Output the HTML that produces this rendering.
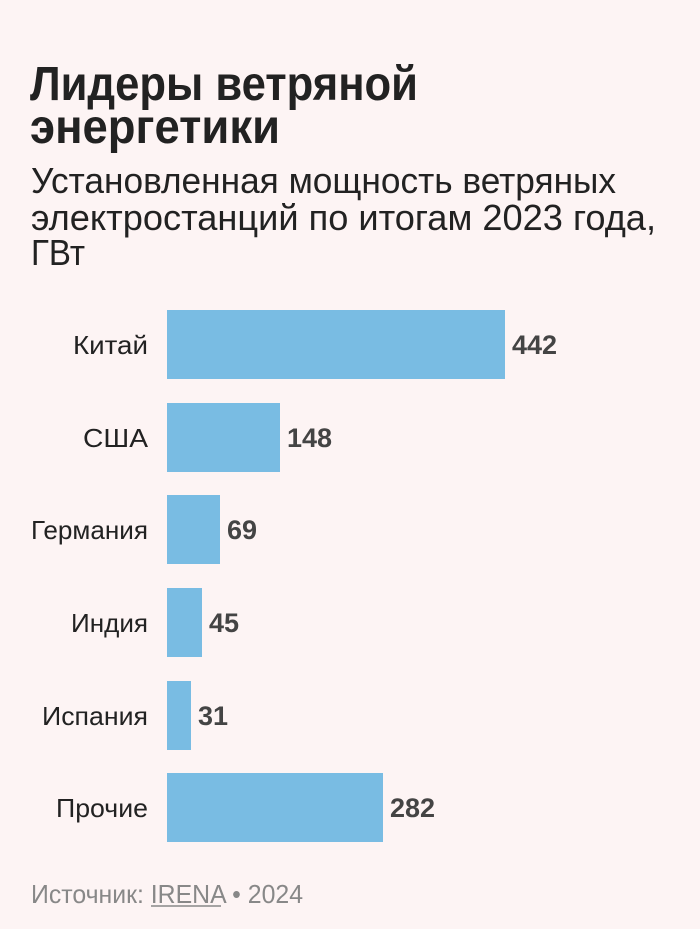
<!DOCTYPE html>
<html><head><meta charset="utf-8"><style>
html,body{margin:0;padding:0;background:#fdf4f4;}
svg{display:block;}
text{font-family:"Liberation Sans",sans-serif;}
</style></head><body>
<svg width="700" height="929" viewBox="0 0 700 929" xmlns="http://www.w3.org/2000/svg">
<rect width="700" height="929" fill="#fdf4f4"/>
<g fill="#222" font-weight="bold" font-size="48">
<text x="30" y="100" textLength="388" lengthAdjust="spacingAndGlyphs">Лидеры ветряной</text>
<text x="30" y="143" textLength="250" lengthAdjust="spacingAndGlyphs">энергетики</text>
</g>
<g fill="#222" font-size="36">
<text x="31" y="193" textLength="585" lengthAdjust="spacingAndGlyphs">Установленная мощность ветряных</text>
<text x="31" y="230" textLength="625" lengthAdjust="spacingAndGlyphs">электростанций по итогам 2023 года,</text>
<text x="31" y="265" textLength="54" lengthAdjust="spacingAndGlyphs">ГВт</text>
</g>
<g fill="#79bce3">
<rect x="167" y="310" width="338" height="69"/>
<rect x="167" y="403" width="113" height="69"/>
<rect x="167" y="495" width="53" height="69"/>
<rect x="167" y="588" width="35" height="69"/>
<rect x="167" y="681" width="24" height="69"/>
<rect x="167" y="773" width="216" height="69"/>
</g>
<g fill="#222" font-size="26" text-anchor="end">
<text x="148" y="354" textLength="75" lengthAdjust="spacingAndGlyphs">Китай</text>
<text x="148" y="447" textLength="65" lengthAdjust="spacingAndGlyphs">США</text>
<text x="148" y="539" textLength="117" lengthAdjust="spacingAndGlyphs">Германия</text>
<text x="148" y="632" textLength="77" lengthAdjust="spacingAndGlyphs">Индия</text>
<text x="148" y="725" textLength="106" lengthAdjust="spacingAndGlyphs">Испания</text>
<text x="148" y="817" textLength="92" lengthAdjust="spacingAndGlyphs">Прочие</text>
</g>
<g fill="#444" font-size="27" font-weight="bold">
<text x="512" y="354">442</text>
<text x="287" y="447">148</text>
<text x="227" y="539">69</text>
<text x="209" y="632">45</text>
<text x="198" y="725">31</text>
<text x="390" y="817">282</text>
</g>
<text x="31" y="903" fill="#888" font-size="26" textLength="272" lengthAdjust="spacingAndGlyphs">Источник: IRENA • 2024</text>
<line x1="151" y1="906" x2="221" y2="906" stroke="#888" stroke-width="1.5"/>
</svg>
</body></html>
